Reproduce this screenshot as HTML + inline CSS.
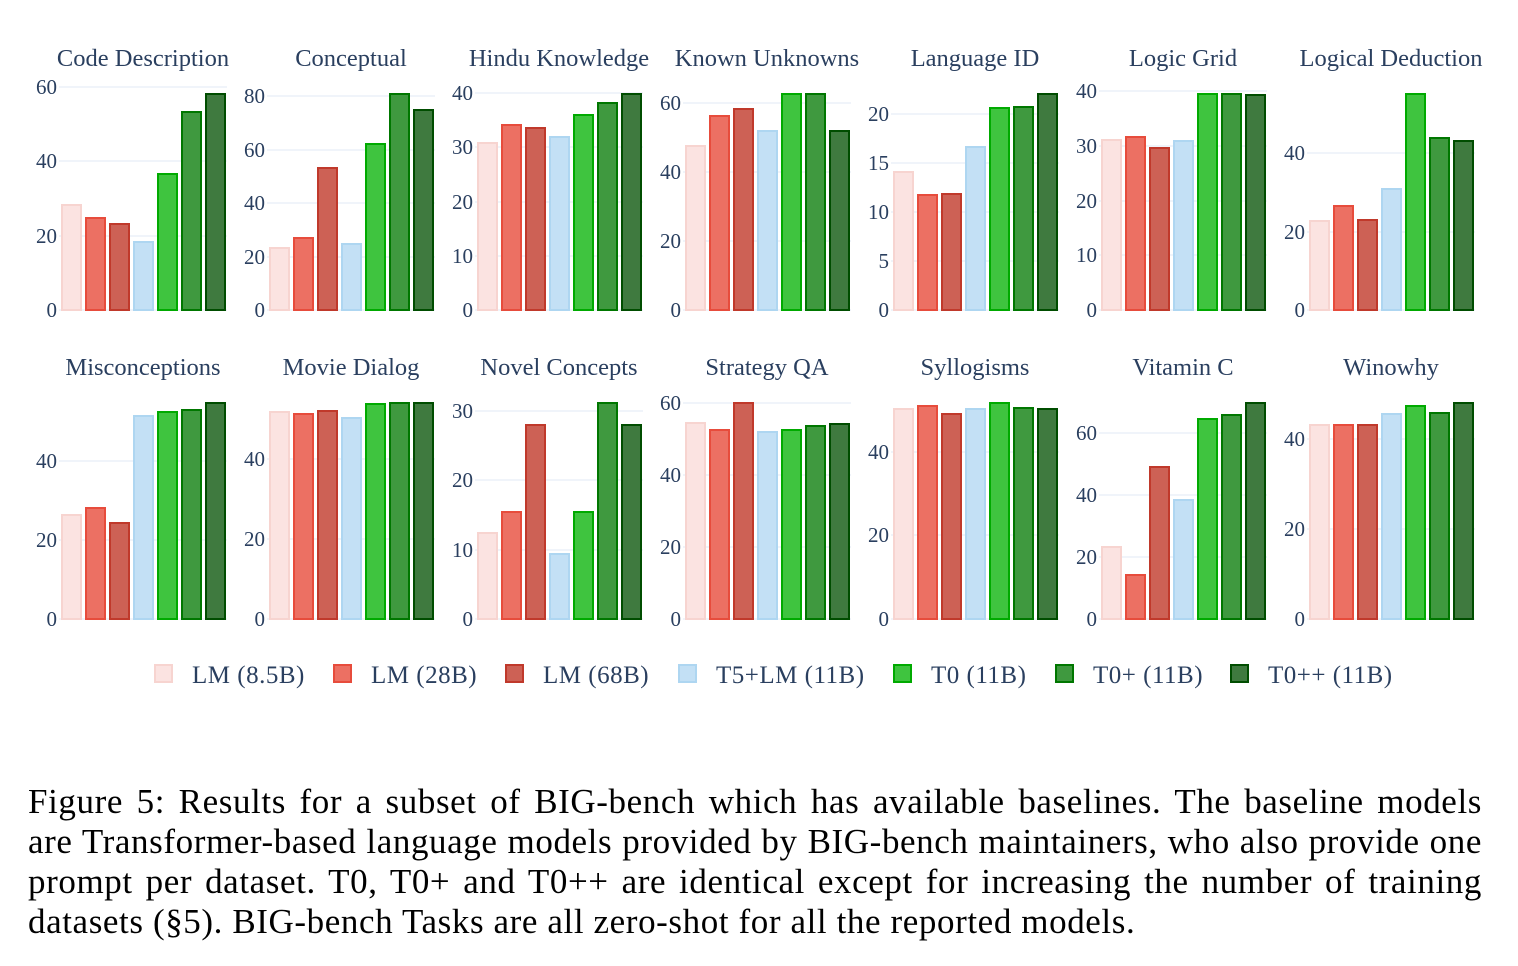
<!DOCTYPE html>
<html><head><meta charset="utf-8"><style>
body{margin:0;background:#fff;width:1518px;height:966px;overflow:hidden;position:relative;font-family:"Liberation Serif",serif}
svg{position:absolute;left:0;top:0}
.cap{position:absolute;left:28px;width:1454px;font-size:35px;letter-spacing:0.6px;color:#000;white-space:nowrap;line-height:40px}
.j{text-align:justify;text-align-last:justify}
</style></head><body>
<svg id="s" width="1518" height="720" font-family="Liberation Serif, serif" fill="#2a3f5f">
<g id="g"></g>
<g font-size="24.5" text-anchor="middle">
<text x="143" y="66">Code Description</text><text x="351" y="66">Conceptual</text><text x="559" y="66">Hindu Knowledge</text><text x="767" y="66">Known Unknowns</text><text x="975" y="66">Language ID</text><text x="1183" y="66">Logic Grid</text><text x="1391" y="66">Logical Deduction</text>
<text x="143" y="375">Misconceptions</text><text x="351" y="375">Movie Dialog</text><text x="559" y="375">Novel Concepts</text><text x="767" y="375">Strategy QA</text><text x="975" y="375">Syllogisms</text><text x="1183" y="375">Vitamin C</text><text x="1391" y="375">Winowhy</text>
</g>
<g font-size="25" letter-spacing="0.5">
<text x="192" y="683">LM (8.5B)</text><text x="371" y="683">LM (28B)</text><text x="543" y="683">LM (68B)</text><text x="716" y="683">T5+LM (11B)</text><text x="931" y="683">T0 (11B)</text><text x="1093" y="683">T0+ (11B)</text><text x="1268" y="683">T0++ (11B)</text>
</g>
</svg>
<div class="cap j" style="top:782px">Figure 5: Results for a subset of BIG-bench which has available baselines. The baseline models</div>
<div class="cap j" style="top:822px">are Transformer-based language models provided by BIG-bench maintainers, who also provide one</div>
<div class="cap j" style="top:862px">prompt per dataset. T0, T0+ and T0++ are identical except for increasing the number of training</div>
<div class="cap" style="top:902px">datasets (§5). BIG-bench Tasks are all zero-shot for all the reported models.</div>
<script>
const F=["#fbe3e1","#ec7063","#cd6155","#c3e0f5","#3fc43f","#3f993f","#3f7a3f"];
const B=["#f7d4d0","#e74c3c","#c0392b","#aed6f1","#00aa00","#007700","#004d00"];
const P=[
[310,[[0,310],[20,236],[40,161],[60,87]],[204,217,223,241,173,111,93]],
[310,[[0,310],[20,257],[40,203],[60,150],[80,96]],[247,237,167,243,143,93,109]],
[310,[[0,310],[10,256],[20,202],[30,147],[40,93]],[142,124,127,136,114,102,93]],
[310,[[0,310],[20,241],[40,172],[60,103]],[145,115,108,130,93,93,130]],
[310,[[0,310],[5,261],[10,212],[15,163],[20,114]],[171,194,193,146,107,106,93]],
[310,[[0,310],[10,255],[20,201],[30,146],[40,91]],[139,136,147,140,93,93,94]],
[310,[[0,310],[20,232],[40,153]],[220,205,219,188,93,137,140]],
[619,[[0,619],[20,540],[40,461]],[514,507,522,415,411,409,402]],
[619,[[0,619],[20,539],[40,459]],[411,413,410,417,403,402,402]],
[619,[[0,619],[10,550],[20,480],[30,411]],[532,511,424,553,511,402,424]],
[619,[[0,619],[20,547],[40,475],[60,403]],[422,429,402,431,429,425,423]],
[619,[[0,619],[20,535],[40,452]],[408,405,413,408,402,407,408]],
[619,[[0,619],[20,557],[40,495],[60,433]],[546,574,466,499,418,414,402]],
[619,[[0,619],[20,529],[40,439]],[424,424,424,413,405,412,402]]];
let h="";
P.forEach((p,i)=>{const x0=59+208*(i%7);const base=p[0];
p[1].forEach(t=>{h+=`<line x1="${x0}" x2="${x0+168}" y1="${t[1]}" y2="${t[1]}" stroke="#ebf0f8" stroke-width="1.5"/><text x="${x0-2}" y="${t[1]+7}" font-size="21" text-anchor="end">${t[0]}</text>`;});
p[2].forEach((y,k)=>{const x=x0+2+24*k;h+=`<rect x="${x+1}" y="${y+1}" width="19" height="${base-y-1}" fill="${F[k]}" stroke="${B[k]}" stroke-width="2"/>`;});
});
const LX=[154,333,505,678,893,1055,1230];
LX.forEach((x,k)=>{h+=`<rect x="${x+1}" y="${665}" width="17" height="17" fill="${F[k]}" stroke="${B[k]}" stroke-width="2"/>`;});
document.getElementById("g").innerHTML=h;
</script>
</body></html>
